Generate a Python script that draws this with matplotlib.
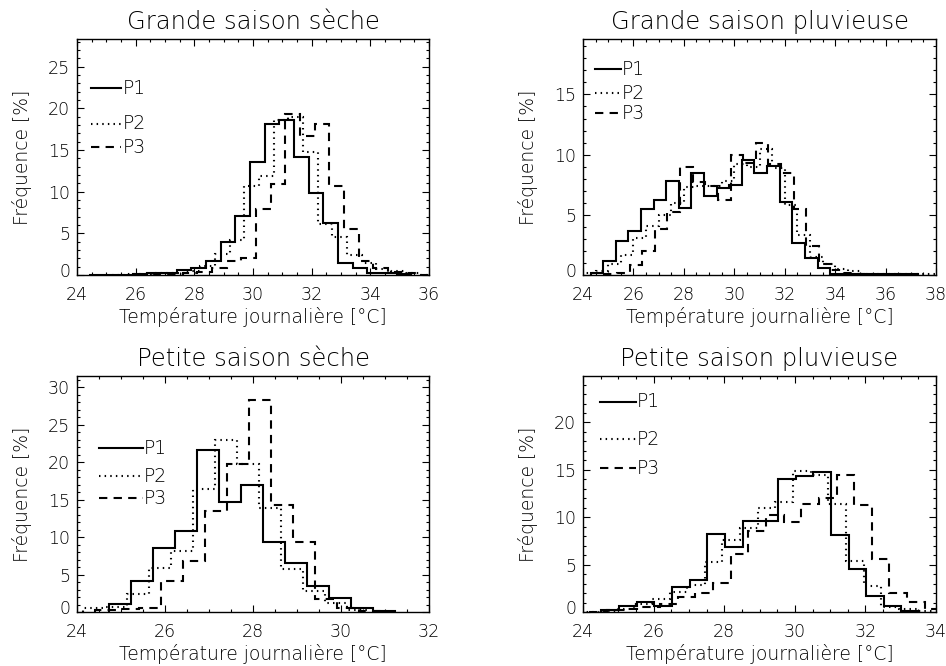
import numpy as np
import matplotlib
matplotlib.use('Agg')
import matplotlib.pyplot as plt
from matplotlib.ticker import MultipleLocator, FuncFormatter
import matplotlib.transforms as mtransforms

# frequencies [%] per 0.5 degC bin, each series has its own first bin edge
bin_width = 0.5

gss_start = [24.4, 25.2, 26.1]
gss_p1 = [0.05, 0.05, 0.05, 0.1, 0.2, 0.2, 0.6, 0.9, 1.7, 4.0, 7.1, 13.5, 18.1,
          18.6, 14.1, 9.8, 6.2, 1.5, 0.9, 0.3, 0.2, 0.1]
gss_p2 = [0.05, 0.1, 0.1, 0.2, 0.2, 0.5, 1.1, 2.5, 4.2, 10.7, 11.9, 18.6, 19.0,
          14.8, 6.1, 4.6, 2.4, 1.4, 0.7, 0.5, 0.2, 0.05]
gss_p3 = [0.05, 0.1, 0.1, 0.2, 0.4, 0.9, 1.7, 2.1, 7.9, 10.9, 19.3, 16.7, 18.1,
          10.7, 5.5, 1.7, 0.9, 0.4, 0.2, 0.05]

gsp_start = [24.3, 24.0, 24.85]
gsp_p1 = [0.2, 1.15, 2.85, 3.65, 5.45, 6.2, 7.8, 5.55, 8.5, 6.55, 7.2, 7.5, 9.55,
          8.5, 9.05, 6.1, 2.7, 1.4, 0.6, 0.08, 0.08, 0.08, 0.08, 0.08, 0.08, 0.08]
gsp_p2 = [0.2, 0.3, 0.9, 1.7, 3.1, 4.1, 5.0, 6.0, 7.3, 7.4, 7.4, 7.8, 9.2, 9.0,
          10.5, 8.9, 5.8, 3.3, 1.5, 0.9, 0.5, 0.3, 0.1, 0.05, 0.05, 0.05, 0.05, 0.05]
gsp_p3 = [0.1, 0.2, 0.8, 2.0, 3.8, 5.2, 9.0, 7.7, 7.4, 6.2, 10.0, 9.3, 11.0, 9.2,
          8.5, 5.5, 2.4, 0.9, 0.4, 0.2, 0.1]

pss_start = [24.72, 24.14, 24.42]
pss_p1 = [1.1, 4.1, 8.5, 10.8, 21.6, 14.7, 17.0, 9.3, 6.5, 3.5, 1.9, 0.5, 0.2]
pss_p2 = [0.5, 0.7, 2.4, 5.9, 8.1, 16.4, 23.0, 19.7, 13.9, 5.7, 2.8, 1.2, 0.3]
pss_p3 = [0.3, 0.4, 0.6, 4.2, 6.8, 13.5, 19.7, 28.3, 14.3, 9.3, 1.7, 0.5, 0.1]

psp_start = [24.52, 23.95, 24.18]
psp_p1 = [0.2, 0.6, 1.1, 0.6, 2.6, 3.4, 8.2, 6.9, 9.6, 9.6, 14.0, 14.4, 14.8,
          8.1, 4.5, 1.7, 0.6, 0.1]
psp_p2 = [0.05, 0.1, 0.3, 0.9, 1.4, 2.1, 2.9, 5.3, 7.6, 8.9, 11.0, 11.6, 14.9,
          14.5, 11.4, 5.4, 2.8, 0.5, 0.3, 0.1]
psp_p3 = [0.05, 0.2, 0.3, 0.5, 0.9, 1.6, 2.0, 3.1, 6.1, 8.5, 10.2, 9.5, 11.4,
          12.0, 14.5, 11.3, 5.6, 2.0, 1.1, 0.3]

titles = ["Grande saison sèche", "Grande saison pluvieuse",
          "Petite saison sèche", "Petite saison pluvieuse"]
series_names = ["P1", "P2", "P3"]
xlims = [(24, 36), (24, 38), (24, 32), (24, 34)]
ylims = [(0, 28.3), (0, 19.6), (0, 31.5), (0, 24.9)]

panels = [
    (gss_start, [gss_p1, gss_p2, gss_p3]),
    (gsp_start, [gsp_p1, gsp_p2, gsp_p3]),
    (pss_start, [pss_p1, pss_p2, pss_p3]),
    (psp_start, [psp_p1, psp_p2, psp_p3]),
]

# axes boxes in figure fraction (left, bottom, width, height)
boxes = [
    (0.0814, 0.587, 0.3721, 0.3544),
    (0.6163, 0.587, 0.3732, 0.3544),
    (0.0814, 0.081, 0.3721, 0.3544),
    (0.6163, 0.081, 0.3732, 0.3544),
]
# legend placement in axes fraction: line x0, x1, then y of P1, P2, P3
legend_pos = [
    (0.040, 0.126, [0.792, 0.640, 0.542]),
    (0.033, 0.108, [0.873, 0.771, 0.686]),
    (0.0625, 0.188, [0.695, 0.576, 0.483]),
    (0.047, 0.150, [0.890, 0.733, 0.610]),
]

styles = ['-', (0, (0.7, 2.0)), (0, (4, 3))]
txt_color = 'black'
font = 'DejaVu Sans'
weight = 'light'
tick_size = 12.5


def no_zero(v, pos):
    # zero is drawn by hand, slightly raised
    if abs(v) < 1e-9:
        return ''
    return '%d' % v


fig = plt.figure(figsize=(9.46, 6.66), dpi=100)

for i, (starts, series) in enumerate(panels):
    ax = fig.add_axes(boxes[i])
    for j, vals in enumerate(series):
        edges = starts[j] + bin_width * np.arange(len(vals) + 1)
        ax.stairs(vals, edges, baseline=0, color='black', lw=1.5,
                  linestyle=styles[j], clip_on=True)

    ax.set_xlim(xlims[i])
    ax.set_ylim(ylims[i])
    ax.xaxis.set_major_locator(MultipleLocator(2))
    ax.xaxis.set_minor_locator(MultipleLocator(0.5))
    ax.yaxis.set_major_locator(MultipleLocator(5))
    ax.yaxis.set_minor_locator(MultipleLocator(1))
    ax.yaxis.set_major_formatter(FuncFormatter(no_zero))
    ax.tick_params(which='both', direction='in', top=True, right=True,
                   width=0.8, colors='black', labelcolor=txt_color)
    ax.tick_params(which='major', length=5)
    ax.tick_params(which='minor', length=2.5)
    ax.tick_params(axis='x', pad=8, labelsize=tick_size)
    ax.tick_params(axis='y', pad=5, labelsize=tick_size)
    for sp in ax.spines.values():
        sp.set_linewidth(1.0)
    for lab in ax.get_xticklabels() + ax.get_yticklabels():
        lab.set_family(font)
        lab.set_weight(weight)

    zero_tr = ax.get_yaxis_transform() + mtransforms.ScaledTranslation(
        -5 / 72., 5 / 100., fig.dpi_scale_trans)
    ax.text(0, 0, '0', transform=zero_tr, ha='right', va='center_baseline',
            fontsize=tick_size, color=txt_color, family=font, weight=weight)

    ax.set_title(titles[i], fontsize=17.5, color=txt_color, family=font,
                 weight=weight, pad=7)
    ax.set_xlabel("Température journalière [°C]", fontsize=13.5,
                  color=txt_color, family=font, weight=weight, labelpad=2)
    ax.set_ylabel("Fréquence [%]", fontsize=13.5, color=txt_color,
                  family=font, weight=weight)
    ax.yaxis.set_label_coords(-0.128, 0.5)

    x0, x1, ys = legend_pos[i]
    for j, name in enumerate(series_names):
        ax.plot([x0, x1], [ys[j], ys[j]], transform=ax.transAxes,
                color='black', lw=1.5, linestyle=styles[j])
        ax.text(x1 + 0.003, ys[j], name, transform=ax.transAxes,
                fontsize=13.5, color=txt_color, family=font, weight=weight,
                ha='left', va='center')

fig.savefig('out.png', dpi=100)
